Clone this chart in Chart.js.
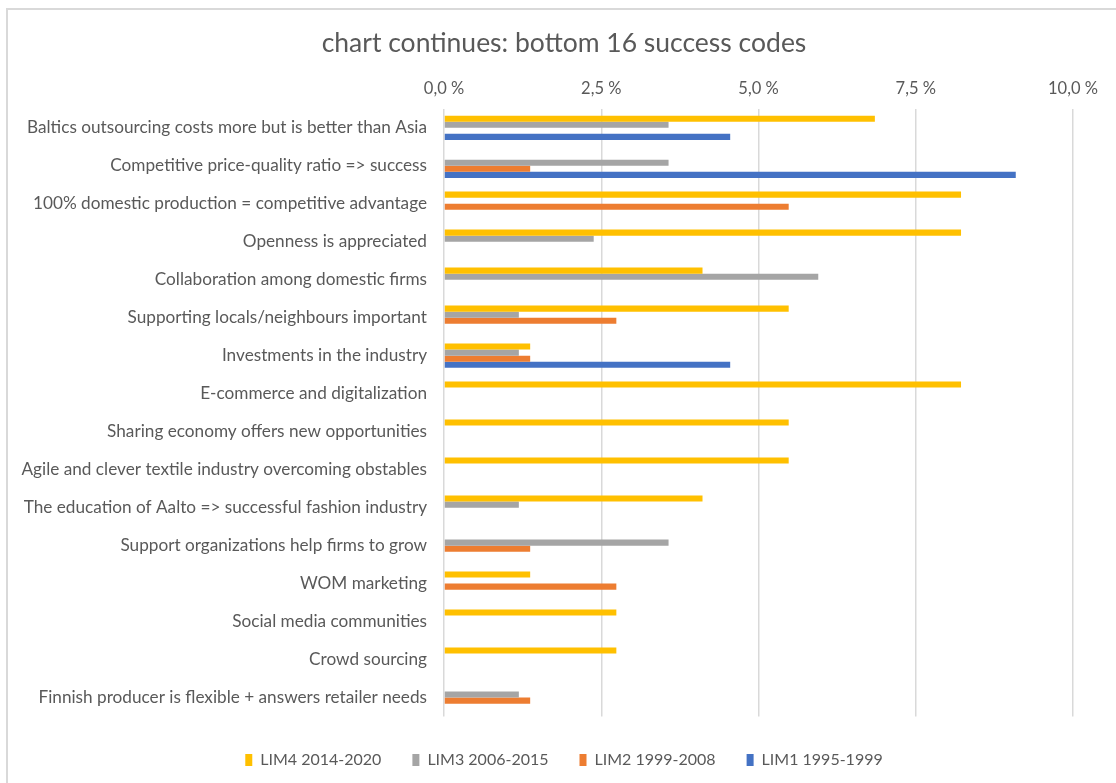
<!DOCTYPE html>
<html>
<head>
<meta charset="utf-8">
<script src="https://cdn.jsdelivr.net/npm/chart.js@4"></script>
<style>
  html, body { margin: 0; padding: 0; background: #fff; }
  #wrap { width: 1116px; height: 783px; position: relative; }
</style>
</head>
<body>
<div id="wrap"><canvas id="successCodes"></canvas></div>
<script>
const codes = [
  'Baltics outsourcing costs more but is better than Asia',
  'Competitive price-quality ratio => success',
  '100% domestic production = competitive advantage',
  'Openness is appreciated',
  'Collaboration among domestic firms',
  'Supporting locals/neighbours important',
  'Investments in the industry',
  'E-commerce and digitalization',
  'Sharing economy offers new opportunities',
  'Agile and clever textile industry overcoming obstables',
  'The education of Aalto => successful fashion industry',
  'Support organizations help firms to grow',
  'WOM marketing',
  'Social media communities',
  'Crowd sourcing',
  'Finnish producer is flexible + answers retailer needs'
];

// shares in percent
const lim4 = [6.85, 0, 8.22, 8.22, 4.11, 5.48, 1.37, 8.22, 5.48, 5.48, 4.11, 0, 1.37, 2.74, 2.74, 0];
const lim3 = [3.57, 3.57, 0, 2.38, 5.95, 1.19, 1.19, 0, 0, 0, 1.19, 3.57, 0, 0, 0, 1.19];
const lim2 = [0, 1.37, 5.48, 0, 0, 2.74, 1.37, 0, 0, 0, 0, 1.37, 2.74, 0, 0, 1.37];
const lim1 = [4.55, 9.09, 0, 0, 0, 0, 4.55, 0, 0, 0, 0, 0, 0, 0, 0, 0];

const seriesNames = ['LIM4 2014-2020', 'LIM3 2006-2015', 'LIM2 1999-2008', 'LIM1 1995-1999'];
const axisTicks = [0, 2.5, 5, 7.5, 10];

const textColor = '#595959';
const fontFamily = 'Lato, "Open Sans", sans-serif';

const datasets = [
  { label: seriesNames[0], data: lim4, backgroundColor: '#FFC000' },
  { label: seriesNames[1], data: lim3, backgroundColor: '#A5A5A5' },
  { label: seriesNames[2], data: lim2, backgroundColor: '#ED7D31' },
  { label: seriesNames[3], data: lim1, backgroundColor: '#4472C4' }
];

// thin frame round the chart
const frame = {
  id: 'frame',
  beforeDraw(chart) {
    const ctx = chart.ctx;
    ctx.save();
    ctx.strokeStyle = '#D9D9D9';
    ctx.lineWidth = 2;
    ctx.strokeRect(7, 9, chart.width + 10, chart.height + 10);
    ctx.restore();
  }
};

new Chart(document.getElementById('successCodes'), {
  type: 'bar',
  data: { labels: codes, datasets: datasets },
  plugins: [frame],
  options: {
    indexAxis: 'y',
    responsive: true,
    maintainAspectRatio: false,
    animation: false,
    layout: { padding: { left: 12, right: 0, top: 0, bottom: 5 } },
    datasets: {
      bar: { barPercentage: 1, categoryPercentage: 0.64, borderWidth: 0 }
    },
    scales: {
      x: {
        position: 'top',
        min: 0,
        max: 10,
        afterBuildTicks(scale) {
          scale.ticks = axisTicks.map(v => ({ value: v }));
        },
        afterFit(scale) { scale.height = 41; },
        border: { display: false },
        grid: { color: '#D9D9D9', lineWidth: 1.5, drawTicks: false },
        ticks: {
          padding: 10,
          color: textColor,
          font: { family: fontFamily, size: 16.5 },
          callback: v => v.toFixed(1).replace('.', ',') + ' %'
        }
      },
      y: {
        afterFit(scale) { scale.width = 432; },
        border: { display: false },
        grid: { display: false },
        ticks: {
          padding: 9,
          color: textColor,
          autoSkip: false,
          font: { family: fontFamily, size: 17.2 }
        }
      },
      // empty strip on the right so the plot stops short of the edge
      gapRight: {
        axis: 'y',
        type: 'linear',
        position: 'right',
        afterFit(scale) { scale.width = 43; },
        border: { display: false },
        grid: { display: false },
        ticks: { display: false }
      }
    },
    plugins: {
      title: {
        display: true,
        text: 'chart continues: bottom 16 success codes',
        color: textColor,
        padding: { top: 28, bottom: 8 },
        font: { family: fontFamily, size: 26.5, weight: 'normal' }
      },
      legend: {
        position: 'bottom',
        // blank title just pushes the items down a bit
        title: { display: true, text: ' ', padding: 0, font: { size: 3.7 } },
        labels: {
          color: textColor,
          boxWidth: 7,
          boxHeight: 12,
          padding: 31,
          font: { family: fontFamily, size: 16 }
        }
      },
      tooltip: { enabled: false }
    }
  }
});
</script>
</body>
</html>
